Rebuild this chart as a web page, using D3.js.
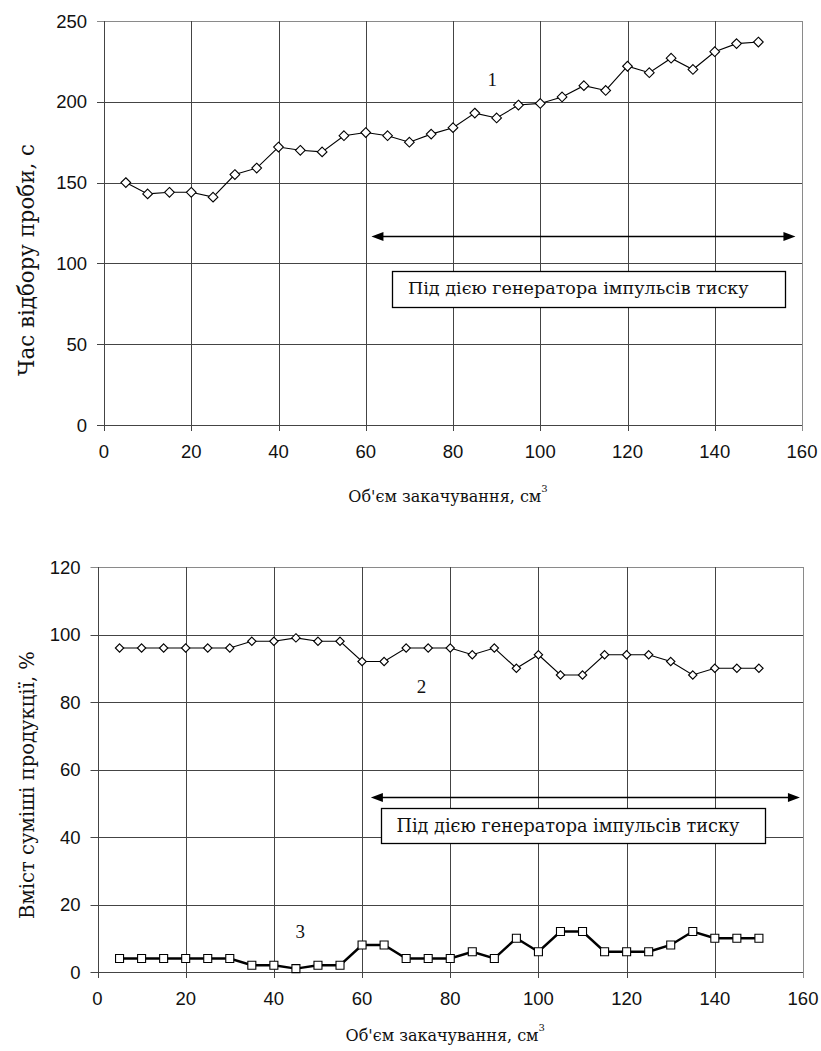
<!DOCTYPE html>
<html>
<head>
<meta charset="utf-8">
<script src="https://cdn.jsdelivr.net/npm/d3@7"></script>
<style>
  body { margin: 0; background: #fff; }
  svg { display: block; }
</style>
</head>
<body>
<div id="chart"></div>
<script>
// Об'єм закачування, см3
const volumes = [5, 10, 15, 20, 25, 30, 35, 40, 45, 50, 55, 60, 65, 70, 75,
  80, 85, 90, 95, 100, 105, 110, 115, 120, 125, 130, 135, 140, 145, 150];

// 1 - час відбору проби, с
const sampleTime = [150, 143, 144, 144, 141, 155, 159, 172, 170, 169, 179, 181, 179, 175, 180,
  184, 193, 190, 198, 199, 203, 210, 207, 222, 218, 227, 220, 231, 236, 237];

// 2 і 3 - вміст суміші продукції, %
const content2 = [96, 96, 96, 96, 96, 96, 98, 98, 99, 98, 98, 92, 92, 96, 96,
  96, 94, 96, 90, 94, 88, 88, 94, 94, 94, 92, 88, 90, 90, 90];
const content3 = [4, 4, 4, 4, 4, 4, 2, 2, 1, 2, 2, 8, 8, 4, 4,
  4, 6, 4, 10, 6, 12, 12, 6, 6, 6, 8, 12, 10, 10, 10];

const xTicks = [0, 20, 40, 60, 80, 100, 120, 140, 160];
const yTicksTop = [0, 50, 100, 150, 200, 250];
const yTicksBottom = [0, 20, 40, 60, 80, 100, 120];

const noteText = "Під дією генератора імпульсів тиску";
const xTitle = "Об'єм закачування, см";
const yTitleTop = "Час відбору проби, с";
const yTitleBottom = "Вміст суміші продукції, %";

const W = 821, H = 1051;
const SERIF = "DejaVu Serif, serif";
const SANS = "Liberation Sans, Arial, sans-serif";

const svg = d3.select("#chart")
  .append("svg")
  .attr("width", W)
  .attr("height", H);

// Підгонка розміру шрифту під ширину тексту з оригіналу.
function fitText(sel, width) {
  const node = sel.node();
  const size = parseFloat(sel.attr("font-size"));
  const len = node.getComputedTextLength();
  if (len > 0) sel.attr("font-size", (size * width / len).toFixed(2) + "px");
}

function drawPanel(opts) {
  const { left, right, top, bottom, yDomain, yTicks, series, yTitle, yTitleY,
    yTitleW, xTitleDy, note, labels } = opts;

  const x = d3.scaleLinear().domain([0, 160]).range([left, right]);
  const y = d3.scaleLinear().domain(yDomain).range([bottom, top]);

  const g = svg.append("g");

  // сітка
  g.append("g")
    .selectAll("line")
    .data(yTicks)
    .join("line")
    .attr("x1", left - 7)
    .attr("x2", right)
    .attr("y1", (d) => Math.round(y(d)) + 0.5)
    .attr("y2", (d) => Math.round(y(d)) + 0.5)
    .attr("stroke", (d) => (d === yDomain[1] ? "#8a8a8a" : "#444"))
    .attr("stroke-width", 1);

  g.append("g")
    .selectAll("line")
    .data(xTicks)
    .join("line")
    .attr("x1", (d) => Math.round(x(d)) + 0.5)
    .attr("x2", (d) => Math.round(x(d)) + 0.5)
    .attr("y1", top)
    .attr("y2", bottom + 6)
    .attr("stroke", (d) => (d === 160 ? "#8a8a8a" : "#444"))
    .attr("stroke-width", 1);

  // підписи осей
  g.append("g")
    .selectAll("text")
    .data(yTicks)
    .join("text")
    .attr("x", left - 17)
    .attr("y", (d) => y(d))
    .attr("dy", "0.36em")
    .attr("text-anchor", "end")
    .attr("font-family", SANS)
    .attr("font-size", "18.5px")
    .attr("fill", "#111")
    .text((d) => d);

  g.append("g")
    .selectAll("text")
    .data(xTicks)
    .join("text")
    .attr("x", (d) => x(d))
    .attr("y", bottom + 26)
    .attr("dy", "0.36em")
    .attr("text-anchor", "middle")
    .attr("font-family", SANS)
    .attr("font-size", "18.5px")
    .attr("fill", "#111")
    .text((d) => d);

  const xt = g.append("text")
    .attr("x", (left + right) / 2 - 5)
    .attr("y", bottom + xTitleDy)
    .attr("text-anchor", "middle")
    .attr("font-family", SERIF)
    .attr("font-size", "16px")
    .attr("fill", "#111");
  const xtMain = xt.append("tspan").text(xTitle);
  fitText(xtMain, 210);
  xt.append("tspan").attr("dy", "-10").attr("font-size", "10px").text("3");

  const yt = g.append("text")
    .attr("transform", `translate(27, ${yTitleY}) rotate(-90)`)
    .attr("dy", "0.35em")
    .attr("text-anchor", "middle")
    .attr("font-family", SERIF)
    .attr("font-size", "16px")
    .attr("fill", "#111")
    .text(yTitle);
  fitText(yt, yTitleW);

  // стрілка та рамка з підписом
  const ay = Math.round(y(note.arrowY)) + 0.5;
  const ax1 = x(note.arrowX[0]);
  const ax2 = x(note.arrowX[1]);
  g.append("line")
    .attr("x1", ax1 + 8)
    .attr("x2", ax2 - 8)
    .attr("y1", ay)
    .attr("y2", ay)
    .attr("stroke", "#000")
    .attr("stroke-width", 1.5);
  g.append("path")
    .attr("d", `M${ax1},${ay}L${ax1 + 12},${ay - 4.5}L${ax1 + 12},${ay + 4.5}Z`)
    .attr("fill", "#000");
  g.append("path")
    .attr("d", `M${ax2},${ay}L${ax2 - 12},${ay - 4.5}L${ax2 - 12},${ay + 4.5}Z`)
    .attr("fill", "#000");

  const bx1 = x(note.boxX[0]);
  const bx2 = x(note.boxX[1]);
  const by1 = y(note.boxY[1]);
  const by2 = y(note.boxY[0]);
  g.append("rect")
    .attr("x", Math.round(bx1) + 0.5)
    .attr("y", Math.round(by1) + 0.5)
    .attr("width", Math.round(bx2 - bx1))
    .attr("height", Math.round(by2 - by1))
    .attr("fill", "#fff")
    .attr("stroke", "#000")
    .attr("stroke-width", 1.3);
  const nt = g.append("text")
    .attr("x", bx1 + 16)
    .attr("y", (by1 + by2) / 2)
    .attr("dy", "0.33em")
    .attr("font-family", SERIF)
    .attr("font-size", "17px")
    .attr("fill", "#111")
    .text(noteText);
  fitText(nt, note.textW);

  // ряди
  series.forEach((s) => {
    const pts = volumes.map((v, i) => [v, s.values[i]]);
    const line = d3.line()
      .x((d) => x(d[0]))
      .y((d) => y(d[1]));

    g.append("path")
      .datum(pts)
      .attr("fill", "none")
      .attr("stroke", "#000")
      .attr("stroke-width", s.width)
      .attr("d", line);

    const sym = d3.symbol()
      .type(s.shape === "square" ? d3.symbolSquare : d3.symbolDiamond2)
      .size(s.size);

    g.append("g")
      .selectAll("path")
      .data(pts)
      .join("path")
      .attr("transform", (d) => `translate(${x(d[0])},${y(d[1])})`)
      .attr("d", sym)
      .attr("fill", "#fff")
      .attr("stroke", "#000")
      .attr("stroke-width", 1.1);
  });

  // номери кривих
  g.append("g")
    .selectAll("text")
    .data(labels)
    .join("text")
    .attr("x", (d) => x(d.x))
    .attr("y", (d) => y(d.y))
    .attr("dy", "0.35em")
    .attr("text-anchor", "middle")
    .attr("font-family", "Liberation Serif, serif")
    .attr("font-size", "19px")
    .attr("fill", "#111")
    .text((d) => d.text);
}

drawPanel({
  left: 104, right: 802, top: 21, bottom: 425,
  yDomain: [0, 250],
  yTicks: yTicksTop,
  series: [{ values: sampleTime, shape: "diamond", size: 60, width: 1.1 }],
  yTitle: yTitleTop,
  yTitleY: 260,
  yTitleW: 232,
  xTitleDy: 77,
  note: { arrowX: [61.3, 158.5], arrowY: 117, boxX: [66, 156], boxY: [73.2, 95.5], textW: 341 },
  labels: [{ text: "1", x: 89, y: 214 }],
});

drawPanel({
  left: 97.5, right: 803, top: 567, bottom: 972,
  yDomain: [0, 120],
  yTicks: yTicksBottom,
  series: [
    { values: content2, shape: "diamond", size: 45, width: 1.1 },
    { values: content3, shape: "square", size: 64, width: 2.4 },
  ],
  yTitle: yTitleBottom,
  yTitleY: 785,
  yTitleW: 268,
  xTitleDy: 69,
  note: { arrowX: [62, 159.3], arrowY: 52, boxX: [64.2, 151.2], boxY: [38.1, 48.5], textW: 343 },
  labels: [
    { text: "2", x: 73.5, y: 84.5 },
    { text: "3", x: 46, y: 12 },
  ],
});
</script>
</body>
</html>
